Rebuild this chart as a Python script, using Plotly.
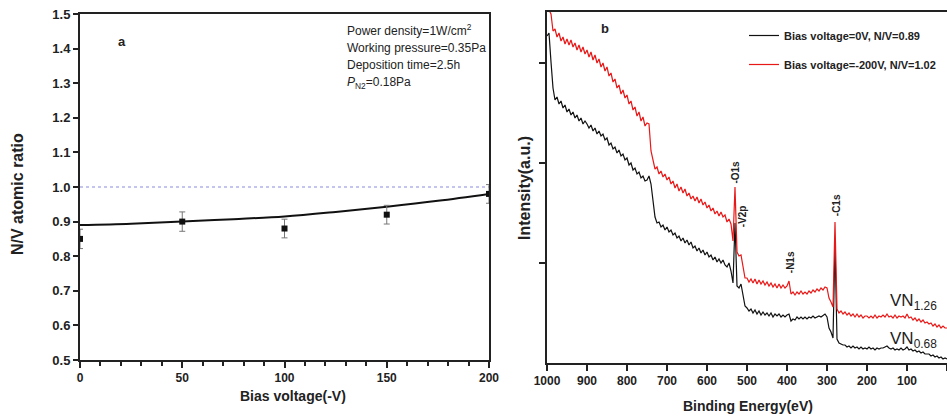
import plotly.graph_objects as go

# ---------------- Panel a data ----------------
bias_voltage = [0, 50, 100, 150, 200]
nv_ratio = [0.85, 0.90, 0.88, 0.92, 0.98]
nv_error = [0.028, 0.028, 0.027, 0.027, 0.027]
fit_bias = [0, 25, 50, 75, 100, 125, 150, 175, 200]
fit_ratio = [0.890, 0.894, 0.900, 0.907, 0.915, 0.928, 0.943, 0.960, 0.980]
ref_bias = [0, 200]
ref_ratio = [1.0, 1.0]
a_xticks = [0, 50, 100, 150, 200]
a_yticks = [0.5, 0.6, 0.7, 0.8, 0.9, 1.0, 1.1, 1.2, 1.3, 1.4, 1.5]

# ---------------- Panel b data ----------------
energy = list(range(1000, -1, -5))
intensity_0V = [
    32.7, 33.0, 30.1, 27.5, 26.3, 26.6, 25.9, 26.2, 25.5, 25.8,
    25.1, 25.4, 24.8, 25.1, 24.5, 24.8, 24.2, 24.5, 23.9, 24.2,
    23.9, 23.5, 23.8, 23.2, 23.5, 22.9, 23.2, 22.7, 22.9, 22.3,
    22.5, 21.8, 22.0, 21.4, 21.6, 21.0, 21.3, 20.7, 20.9, 20.3,
    20.5, 19.8, 20.0, 19.3, 19.5, 18.9, 19.1, 18.5, 18.7, 18.2,
    18.3, 18.7, 17.9, 16.2, 14.6, 14.0, 14.1, 13.6, 13.8, 13.3,
    13.6, 13.1, 13.3, 12.8, 13.0, 12.5, 12.7, 12.2, 12.5, 12.0,
    12.3, 11.8, 12.1, 11.5, 11.7, 11.2, 11.5, 11.0, 11.3, 10.8,
    11.1, 10.6, 10.8, 10.3, 10.6, 10.1, 10.4, 10.0, 10.3, 9.8,
    9.6, 10.0, 9.2, 8.0, 14.0, 7.7, 7.5, 7.9, 6.8, 5.7,
    5.5, 5.2, 5.4, 5.0, 5.3, 4.9, 5.2, 4.8, 5.1, 4.8,
    5.0, 4.7, 5.0, 4.6, 4.9, 4.7, 4.9, 4.6, 4.8, 4.6,
    4.8, 4.9, 4.2, 4.4, 4.3, 4.6, 4.4, 4.6, 4.4, 4.6,
    4.4, 4.6, 4.5, 4.7, 4.5, 4.6, 4.7, 4.6, 4.8, 4.9,
    4.6, 3.5, 3.1, 2.5, 11.8, 2.4, 2.0, 1.9, 1.8, 1.8,
    1.6, 1.7, 1.5, 1.7, 1.5, 1.6, 1.4, 1.6, 1.4, 1.5,
    1.4, 1.6, 1.4, 1.5, 1.3, 1.5, 1.4, 1.5, 1.5, 1.6,
    1.7, 1.5, 1.4, 1.5, 1.3, 1.4, 1.3, 1.5, 1.3, 1.4,
    1.6, 1.3, 1.4, 1.2, 1.3, 1.1, 1.2, 1.0, 1.1, 0.9,
    0.9, 0.9, 0.7, 0.8, 0.6, 0.7, 0.5, 0.6, 0.4, 0.5,
    0.4,
]
intensity_200V = [
    36.1, 35.3, 34.9, 33.2, 33.4, 32.6, 33.0, 32.2, 32.6, 31.9,
    32.4, 31.8, 32.3, 31.6, 32.0, 31.3, 31.8, 31.1, 31.6, 30.9,
    31.3, 30.6, 31.1, 30.3, 30.8, 30.0, 30.4, 29.6, 30.0, 29.2,
    29.6, 28.7, 29.0, 28.1, 28.4, 27.5, 27.8, 26.9, 27.3, 26.5,
    26.8, 25.9, 26.2, 25.3, 25.6, 24.7, 25.1, 24.2, 24.6, 23.7,
    24.0, 23.9, 21.2, 20.2, 19.4, 19.6, 18.9, 19.2, 18.6, 18.9,
    18.3, 18.6, 17.9, 18.2, 17.5, 17.9, 17.2, 17.6, 17.0, 17.4,
    16.7, 17.0, 16.4, 16.7, 16.2, 16.6, 16.0, 16.4, 15.8, 16.1,
    15.5, 15.8, 15.2, 15.5, 14.9, 15.2, 14.7, 15.1, 14.6, 14.8,
    14.1, 14.4, 13.9, 12.2, 17.6, 11.1, 10.7, 10.8, 9.4, 8.5,
    8.5, 8.1, 8.4, 8.0, 8.4, 7.9, 8.3, 7.9, 8.2, 7.8,
    8.1, 7.7, 8.0, 7.6, 7.9, 7.5, 7.9, 7.5, 7.8, 7.5,
    7.7, 8.2, 6.9, 7.1, 6.8, 7.1, 6.9, 7.2, 6.9, 7.1,
    6.9, 7.2, 7.0, 7.3, 7.1, 7.4, 7.2, 7.5, 7.3, 7.6,
    7.5, 6.5, 6.1, 5.6, 14.1, 5.4, 5.0, 5.2, 4.9, 5.1,
    4.8, 5.0, 4.7, 4.9, 4.6, 4.9, 4.6, 4.8, 4.5, 4.7,
    4.7, 4.5, 4.7, 4.5, 4.8, 4.5, 4.7, 4.6, 4.8, 4.6,
    4.9, 4.6, 4.7, 4.5, 4.8, 4.5, 4.7, 4.6, 4.7, 4.5,
    4.9, 4.5, 4.6, 4.3, 4.5, 4.2, 4.4, 4.1, 4.3, 4.0,
    4.1, 3.9, 4.0, 3.7, 3.9, 3.6, 3.8, 3.5, 3.7, 3.5,
    3.5,
]
b_xticks = [1000, 900, 800, 700, 600, 500, 400, 300, 200, 100, 0]
b_yticks = [10, 20, 30]
peak_names = ["-O1s", "-V2p", "-N1s", "-C1s"]
peak_energy = [531, 512, 392, 277]
peak_label_y = [19.1, 14.7, 10.1, 15.8]
legend_names = ["Bias voltage=0V, N/V=0.89", "Bias voltage=-200V, N/V=1.02"]

W, H = 947, 419
SANS = "Liberation Sans, Arial"
INK = "#222222"

fig = go.Figure()

# Panel a
fig.add_trace(go.Scatter(x=ref_bias, y=ref_ratio, mode="lines",
                         line=dict(color="#8a8ae0", width=1.2, dash="dot"),
                         showlegend=False, xaxis="x", yaxis="y"))
fig.add_trace(go.Scatter(x=fit_bias, y=fit_ratio, mode="lines",
                         line=dict(color="#111111", width=2, shape="spline"),
                         showlegend=False, xaxis="x", yaxis="y"))
fig.add_trace(go.Scatter(x=bias_voltage, y=nv_ratio, mode="markers",
                         marker=dict(symbol="square", size=6, color="#111111"),
                         error_y=dict(type="data", array=nv_error, color="#777777",
                                      thickness=1, width=3),
                         showlegend=False, xaxis="x", yaxis="y"))

# Panel b
fig.add_trace(go.Scatter(x=energy, y=intensity_0V, mode="lines", name=legend_names[0],
                         line=dict(color="#111111", width=1.2),
                         legendgroup="g0", xaxis="x2", yaxis="y2"))
fig.add_trace(go.Scatter(x=energy, y=intensity_200V, mode="lines", name=legend_names[1],
                         line=dict(color="#e81818", width=1.2),
                         legendgroup="g1", xaxis="x2", yaxis="y2"))

axis_common = dict(showline=True, linecolor=INK, linewidth=2, ticks="outside",
                   tickwidth=2, tickcolor=INK, showgrid=False, zeroline=False,
                   automargin=False)
xtickfont = dict(family=SANS, size=12, color=INK, weight="bold")
ytickfont = dict(family=SANS, size=13, color=INK, weight="bold")

fig.update_layout(
    width=W, height=H,
    margin=dict(l=0, r=0, t=0, b=0, autoexpand=False),
    paper_bgcolor="white", plot_bgcolor="white",
    xaxis=dict(domain=[80 / W, 489 / W], range=[0, 200], tickvals=a_xticks,
               ticklen=6, mirror=True, anchor="y", tickfont=xtickfont,
               minor=dict(dtick=10, ticks="outside", ticklen=4, tickwidth=2,
                          tickcolor=INK),
               **axis_common),
    yaxis=dict(domain=[(H - 360) / H, (H - 14) / H], range=[0.5, 1.5],
               tickvals=a_yticks, tickformat=".1f", ticklen=5, mirror=True,
               anchor="x", tickfont=ytickfont, **axis_common),
    xaxis2=dict(domain=[547 / W, 1.0], range=[1000, 0], tickvals=b_xticks,
                ticklen=6, mirror=True, anchor="y2", tickfont=xtickfont,
                **axis_common),
    yaxis2=dict(domain=[(H - 363) / H, (H - 12) / H], range=[0, 35.1],
                tickvals=b_yticks, showticklabels=False, ticklen=6,
                anchor="x2", **axis_common),
    showlegend=True,
    legend=dict(x=744 / W, y=(H - 21) / H, xanchor="left", yanchor="top",
                bgcolor="rgba(0,0,0,0)", tracegroupgap=10,
                font=dict(family=SANS, size=11, color=INK, weight="bold")),
)

ann = []


def label(x, y, text, size, xref="paper", yref="paper", angle=0, xanchor="center",
          weight="normal"):
    ann.append(dict(x=x, y=y, xref=xref, yref=yref, text=text, textangle=angle,
                    showarrow=False, xanchor=xanchor, yanchor="middle",
                    font=dict(family=SANS, size=size, color=INK, weight=weight)))


# Panel a labels
label(20.6, 1.42, "<b>a</b>", 13, xref="x", yref="y")
info_lines = ["Power density=1W/cm<sup>2</sup>", "Working pressure=0.35Pa",
              "Deposition time=2.5h", "<i>P</i><sub>N2</sub>=0.18Pa"]
info_y = [30, 48, 65, 83]
for t, yy in zip(info_lines, info_y):
    label(345 / W, (H - yy) / H, t, 12, xanchor="left")
label(18 / W, (H - 194) / H, "<b>N/V atomic ratio</b>", 16, angle=-90)
label(293 / W, (H - 396) / H, "<b>Bias voltage(-V)</b>", 14)
# Panel b labels
label(605 / W, (H - 28) / H, "<b>b</b>", 13)
label(524 / W, (H - 188) / H, "<b>Intensity(a.u.)</b>", 16, angle=-90)
label(748 / W, (H - 406) / H, "<b>Binding Energy(eV)</b>", 14)
for name, e, yv in zip(peak_names, peak_energy, peak_label_y):
    label(e, yv, name, 10, xref="x2", yref="y2", angle=-90, weight="bold")
label(913 / W, (H - 302) / H, "VN<sub>1.26</sub>", 17)
label(913 / W, (H - 340) / H, "VN<sub>0.68</sub>", 17)
fig.update_layout(annotations=ann)

fig.write_html("out.html")
